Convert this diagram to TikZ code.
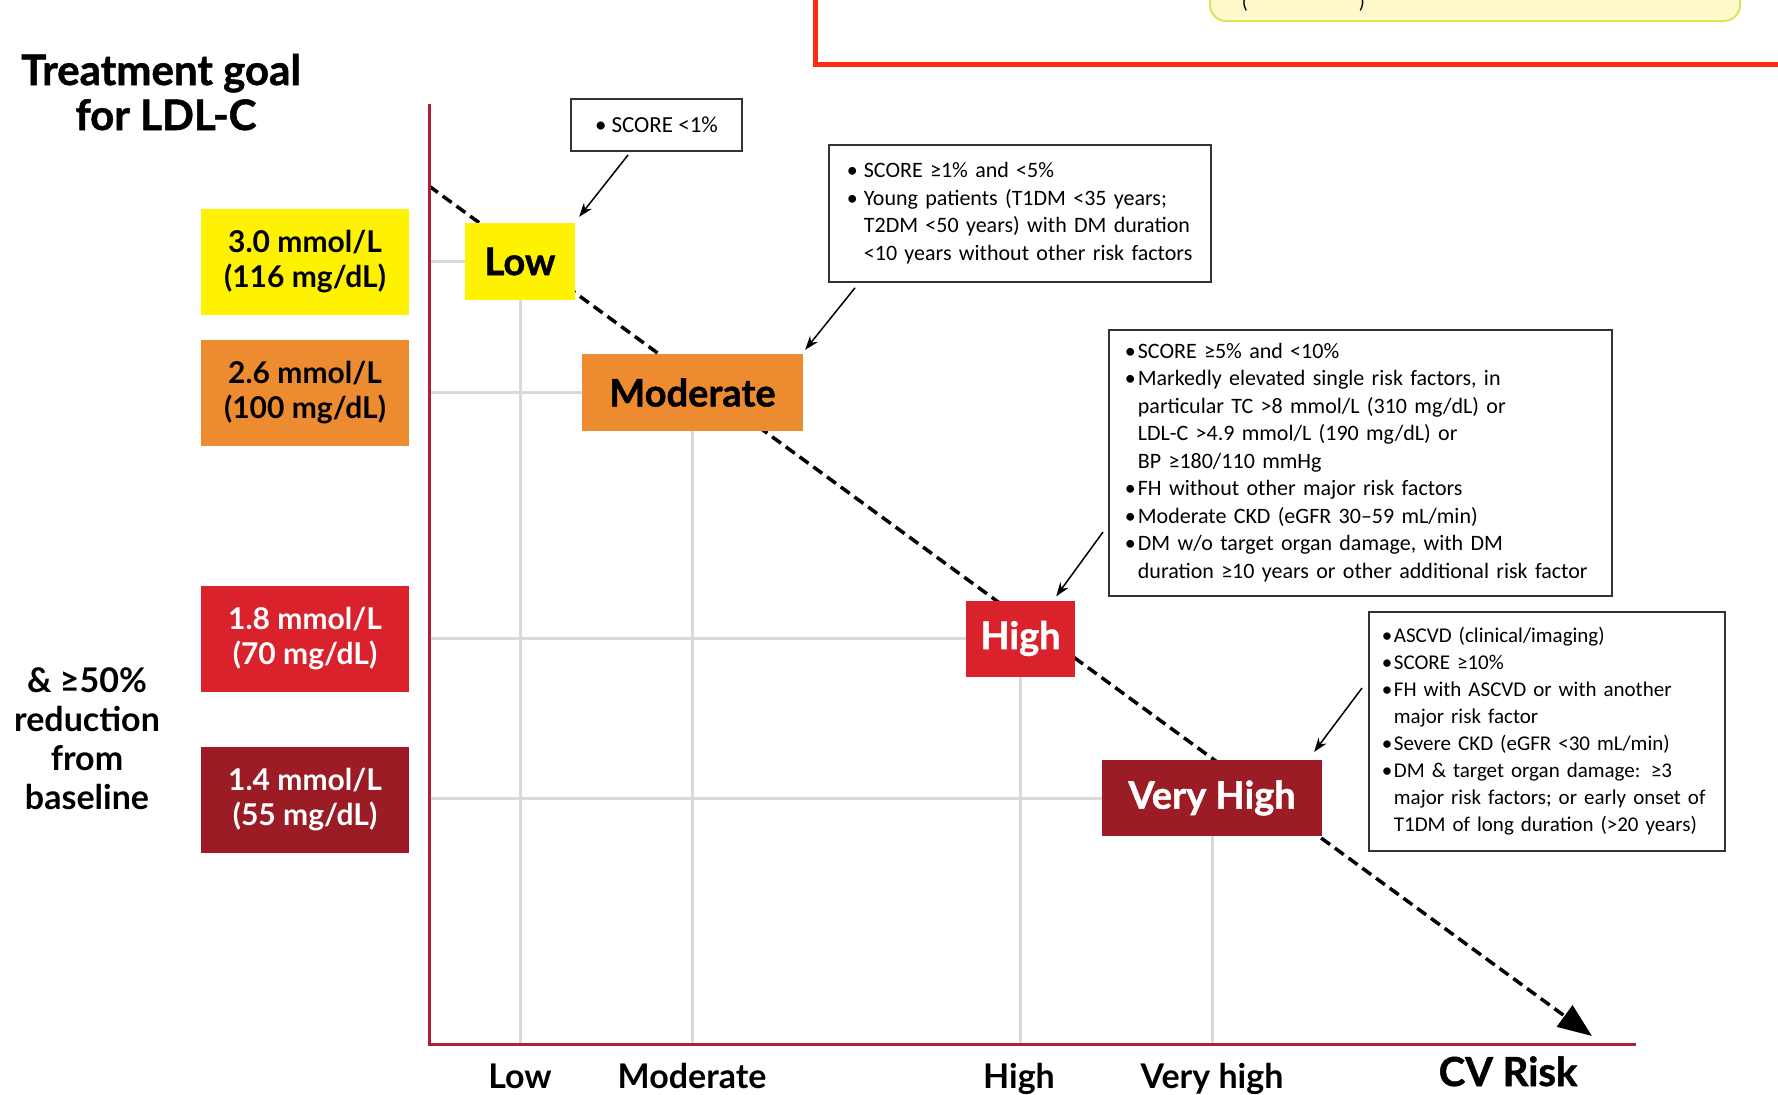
\documentclass[tikz,border=0pt]{standalone}
\usepackage{fontspec}
\setmainfont{Carlito}
\newfontfamily\lato{Lato}
\newfontfamily\latoH[BoldFeatures={FakeBold=1.2}]{Lato}
\usetikzlibrary{arrows.meta,backgrounds}
\definecolor{cyel}{HTML}{FFF200}
\definecolor{corg}{HTML}{EC8B2F}
\definecolor{cred}{HTML}{D9222C}
\definecolor{cdrk}{HTML}{9C1C25}
\definecolor{caxis}{HTML}{B01F35}
\definecolor{cgrid}{HTML}{D9D9D9}
\definecolor{cframe}{HTML}{FF2A12}
\definecolor{cnote}{HTML}{FEF9C8}
\definecolor{cnoteb}{HTML}{E2E05A}
\definecolor{cbox}{HTML}{333333}
\newcommand\bul[1]{\makebox[#1][l]{•}}
\begin{document}
\begin{tikzpicture}[x=1pt,y=-1pt,
  axisline/.style={draw=caxis,line width=3pt},
  gridline/.style={draw=cgrid,line width=3pt},
  trend/.style={draw=black,line width=3.5pt,dash pattern=on 11pt off 6pt,-{Triangle[length=34pt,width=26pt]}},
  callout/.style={draw=black,line width=1.5pt,-{Stealth[length=14pt,width=10pt]}},
  goalbox/.style={rectangle,minimum width=208pt,minimum height=106pt,inner sep=0pt,align=center,font=\lato\bfseries\fontsize{30}{35}\selectfont},
  riskbox/.style={rectangle,inner sep=0pt,minimum height=77pt,font=\latoH\bfseries\fontsize{38}{44}\selectfont},
  descbox/.style={draw=cbox,line width=1.8pt,fill=white,rectangle,inner ysep=0pt,align=left,font=\fontsize{22}{27.5}\selectfont},
  axlabel/.style={anchor=base,font=\lato\bfseries\fontsize{34}{40}\selectfont},
  titlelabel/.style={anchor=base,font=\latoH\bfseries\fontsize{42}{48}\selectfont},
]
\useasboundingbox (0,0) rectangle (1778,1095);
\clip (0,0) rectangle (1778,1095);

% fragment of neighbouring panel at the top
\draw[draw=cframe,line width=5pt] (815,-10) -- (815,64.5) -- (1800,64.5);
\draw[fill=cnote,draw=cnoteb,line width=2pt,rounded corners=16pt] (1210,-60) rectangle (1740,21);
\node[anchor=base,font=\fontsize{20}{24}\selectfont] (parL) at (1245,8) {(};
\node[anchor=base,font=\fontsize{20}{24}\selectfont] (parR) at (1362,8) {)};

% axes reference points
\coordinate (O) at (429,1044);
\coordinate (ytop) at (429,104);
\coordinate (xend) at (1636,1044);
\coordinate (ds) at (429,186);
\coordinate (de) at (1592,1036);

% title and side text
\node[titlelabel] (title1) at (161,85) {Treatment goal};
\node[titlelabel] (title2) at (166,130) {for LDL-C};
\node[align=center,font=\lato\bfseries\fontsize{34}{39}\selectfont] (reduct) at (87,739) {\& ≥50\%\\reduction\\from\\baseline};

% goal boxes
\node[goalbox,fill=cyel] (g30) at (305,262) {3.0 mmol/L\\(116 mg/dL)};
\node[goalbox,fill=corg] (g26) at (305,393) {2.6 mmol/L\\(100 mg/dL)};
\node[goalbox,fill=cred,text=white] (g18) at (305,638.5) {1.8 mmol/L\\(70 mg/dL)};
\node[goalbox,fill=cdrk,text=white] (g14) at (305,800) {1.4 mmol/L\\(55 mg/dL)};

% risk boxes
\node[riskbox,fill=cyel,minimum width=110pt] (low) at (520,261.5) {Low};
\node[riskbox,fill=corg,minimum width=221pt] (mod) at (692.5,392.5) {Moderate};
\node[riskbox,fill=cred,text=white,minimum width=109pt,minimum height=76pt] (high) at (1020.5,638.5) {High};
\node[riskbox,fill=cdrk,text=white,minimum width=220pt,minimum height=76pt] (vh) at (1212,798) {Very High};

\begin{scope}[on background layer]
  \foreach \b in {low,mod,high,vh}{
    \draw[gridline] (\b.center -| O) -- (\b.center);
    \draw[gridline] (\b.center) -- (\b.center |- O);
  }
  \draw[trend] (ds) -- (de);
\end{scope}

\draw[axisline] (ytop) -- (O) -- (xend);

% axis labels
\node[axlabel] (xl1) at (520,1088) {Low};
\node[axlabel] (xl2) at (692,1088) {Moderate};
\node[axlabel] (xl3) at (1019,1088) {High};
\node[axlabel] (xl4) at (1212,1088) {Very high};
\node[anchor=base,font=\latoH\bfseries\fontsize{40}{46}\selectfont] (xl5) at (1508,1086) {CV Risk};

% description boxes
\node[descbox,minimum width=171pt,minimum height=52pt,inner xsep=0pt,align=center,font=\fontsize{23}{27.5}\selectfont] (dlow) at (656.5,125) {•\hspace{5pt}SCORE <1\%};

\node[descbox,anchor=north west,minimum width=382pt,minimum height=137pt,text width=346pt,inner xsep=18pt] (dmod) at (828,144) {\noindent\begin{tabular}{@{}l@{}}\bul{17pt}SCORE ≥1\% and <5\%\\
\bul{17pt}Young patients (T1DM <35 years;\\
\hspace*{17pt}T2DM <50 years) with DM duration\\
\hspace*{17pt}<10 years without other risk factors\end{tabular}};

\node[descbox,anchor=north west,minimum width=503pt,minimum height=266pt,text width=471pt,inner xsep=16pt] (dhigh) at (1108,329) {\noindent\begin{tabular}{@{}l@{}}\bul{13pt}SCORE ≥5\% and <10\%\\
\bul{13pt}Markedly elevated single risk factors, in\\
\hspace*{13pt}particular TC >8 mmol/L (310 mg/dL) or\\
\hspace*{13pt}LDL-C >4.9 mmol/L (190 mg/dL) or\\
\hspace*{13pt}BP ≥180/110 mmHg\\
\bul{13pt}FH without other major risk factors\\
\bul{13pt}Moderate CKD (eGFR 30–59 mL/min)\\
\bul{13pt}DM w/o target organ damage, with DM\\
\hspace*{13pt}duration ≥10 years or other additional risk factor\end{tabular}};

\node[descbox,anchor=north west,minimum width=356pt,minimum height=239pt,text width=330pt,inner xsep=13pt,font=\fontsize{21}{27}\selectfont] (dvh) at (1368,611) {\noindent\begin{tabular}{@{}l@{}}\bul{12pt}ASCVD (clinical/imaging)\\
\bul{12pt}SCORE ≥10\%\\
\bul{12pt}FH with ASCVD or with another\\
\hspace*{12pt}major risk factor\\
\bul{12pt}Severe CKD (eGFR <30 mL/min)\\
\bul{12pt}DM \& target organ damage: ≥3\\
\hspace*{12pt}major risk factors; or early onset of\\
\hspace*{12pt}T1DM of long duration (>20 years)\end{tabular}};

% callout arrows
\draw[callout] ([xshift=58pt,yshift=-3pt]dlow.south west) -- ([xshift=4pt,yshift=6pt]low.north east);
\draw[callout] ([xshift=27pt,yshift=-5pt]dmod.south west) -- ([xshift=2pt,yshift=4pt]mod.north east);
\draw[callout] ([xshift=-5pt,yshift=-203pt]dhigh.north west) -- ([xshift=-19pt,yshift=4pt]high.north east);
\draw[callout] ([xshift=-6pt,yshift=-77pt]dvh.north west) -- ([xshift=-8pt,yshift=8pt]vh.north east);
\end{tikzpicture}
\end{document}
